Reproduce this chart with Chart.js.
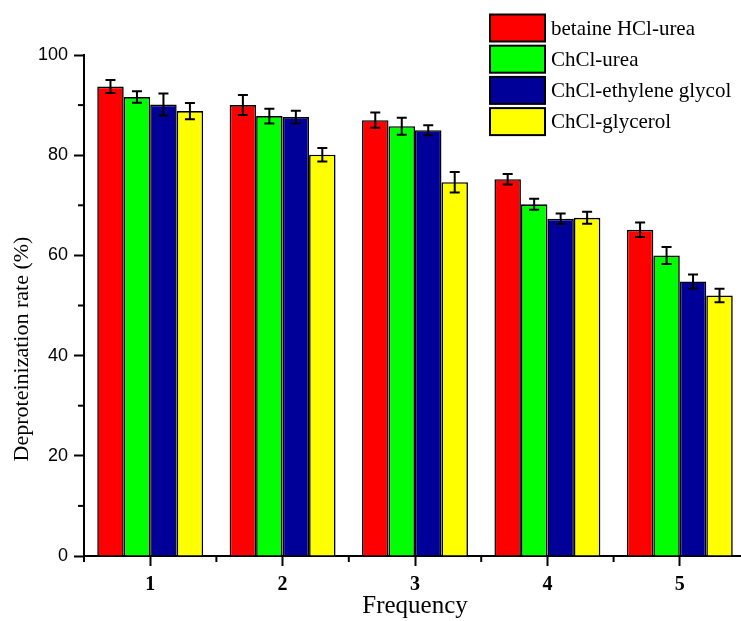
<!DOCTYPE html>
<html>
<head>
<meta charset="utf-8">
<script src="https://cdn.jsdelivr.net/npm/chart.js@4/dist/chart.umd.min.js"></script>
<style>
html,body{margin:0;padding:0;background:#fff;overflow:hidden;width:741px;height:621px;}
#wrap{position:absolute;left:0;top:0;width:750px;height:621px;}
</style>
</head>
<body>
<div id="wrap"><canvas id="c" width="750" height="621"></canvas></div>
<script>
const categories = ['1', '2', '3', '4', '5'];
const seriesNames = ['betaine HCl-urea', 'ChCl-urea', 'ChCl-ethylene glycol', 'ChCl-glycerol'];
const betaineUrea = [93.7, 90.0, 87.0, 75.2, 65.1];
const betaineUreaErr = [1.3, 2.0, 1.5, 1.05, 1.45];
const chclUrea = [91.6, 87.8, 85.8, 70.2, 60.0];
const chclUreaErr = [1.15, 1.45, 1.7, 1.1, 1.7];
const chclEG = [90.1, 87.6, 85.0, 67.3, 54.8];
const chclEGErr = [2.2, 1.25, 1.0, 1.05, 1.4];
const chclGly = [88.8, 80.1, 74.6, 67.5, 52.0];
const chclGlyErr = [1.6, 1.35, 2.05, 1.2, 1.35];
const yTicks = [0, 20, 40, 60, 80, 100];
const yMinorTicks = [10, 30, 50, 70, 90];
const xTitle = 'Frequency';
const yTitle = 'Deproteinization rate (%)';

const colors = ['#ff0000', '#00ff00', '#000099', '#ffff00'];
const values = [betaineUrea, chclUrea, chclEG, chclGly];
const errors = [betaineUreaErr, chclUreaErr, chclEGErr, chclGlyErr];

Chart.defaults.color = '#000';

const errorBars = {
  id: 'errorBars',
  afterDatasetsDraw(chart) {
    const ctx = chart.ctx, y = chart.scales.y;
    ctx.save();
    ctx.strokeStyle = '#000';
    ctx.lineWidth = 2;
    chart.data.datasets.forEach((ds, di) => {
      const meta = chart.getDatasetMeta(di);
      meta.data.forEach((bar, i) => {
        const v = ds.data[i], e = ds.errors[i];
        const yt = y.getPixelForValue(v + e), yb = y.getPixelForValue(v - e);
        ctx.beginPath();
        ctx.moveTo(bar.x, yt); ctx.lineTo(bar.x, yb);
        ctx.moveTo(bar.x - 5, yt); ctx.lineTo(bar.x + 5, yt);
        ctx.moveTo(bar.x - 5, yb); ctx.lineTo(bar.x + 5, yb);
        ctx.stroke();
      });
    });
    ctx.restore();
  }
};

const extras = {
  id: 'extras',
  afterDraw(chart) {
    const ctx = chart.ctx, ys = chart.scales.y, xs = chart.scales.x;
    const area = chart.chartArea;
    ctx.save();
    ctx.strokeStyle = '#000';
    ctx.lineWidth = 2;
    yMinorTicks.forEach(v => {
      const py = ys.getPixelForValue(v);
      ctx.beginPath(); ctx.moveTo(area.left - 6, py); ctx.lineTo(area.left, py); ctx.stroke();
    });
    const step = xs.getPixelForValue(1) - xs.getPixelForValue(0);
    for (let i = 0; i <= categories.length; i++) {
      const px = xs.getPixelForValue(0) - step / 2 + i * step;
      ctx.beginPath(); ctx.moveTo(px, area.bottom); ctx.lineTo(px, area.bottom + 6); ctx.stroke();
    }
    ctx.fillStyle = '#000';
    ctx.font = '22px "Liberation Serif"';
    ctx.textAlign = 'center';
    ctx.textBaseline = 'middle';
    ctx.translate(22, 349);
    ctx.rotate(-Math.PI / 2);
    ctx.fillText(yTitle, 0, 0);
    ctx.restore();
    ctx.save();
    const bx = 490, bw = 55, bh = 27, pitch = 31.2, top0 = 14.5;
    ctx.font = '21px "Liberation Serif"';
    ctx.textAlign = 'left';
    ctx.textBaseline = 'middle';
    chart.data.datasets.forEach((ds, i) => {
      const ty = top0 + i * pitch;
      ctx.fillStyle = ds.backgroundColor;
      ctx.fillRect(bx, ty, bw, bh);
      ctx.lineWidth = 2;
      ctx.strokeStyle = '#000';
      ctx.strokeRect(bx, ty, bw, bh);
      ctx.fillStyle = '#000';
      ctx.fillText(ds.label, 551, ty + bh / 2 + 1);
    });
    ctx.restore();
  }
};

new Chart(document.getElementById('c'), {
  type: 'bar',
  data: {
    labels: categories,
    datasets: seriesNames.map((n, i) => ({
      label: n,
      data: values[i],
      errors: errors[i],
      backgroundColor: colors[i],
      borderColor: '#000',
      borderWidth: 1.6,
      categoryPercentage: 0.8,
      barPercentage: 1.0
    }))
  },
  options: {
    responsive: false,
    animation: false,
    layout: { padding: { top: 55, right: 4, left: 0, bottom: 0 } },
    plugins: { legend: { display: false }, tooltip: { enabled: false } },
    scales: {
      x: {
        afterFit(s) { s.height = 65; },
        grid: { offset: false, drawOnChartArea: false, tickLength: 10, tickWidth: 2, tickColor: '#000' },
        border: { display: true, color: '#000', width: 2 },
        ticks: { font: { family: '"Liberation Serif"', size: 20, weight: 'bold' }, padding: 7, color: '#000' },
        title: { display: true, text: xTitle, font: { family: '"Liberation Serif"', size: 25 }, padding: { top: 0, bottom: 0 }, color: '#000' }
      },
      y: {
        min: 0, max: 100,
        afterFit(s) { s.width = 84; },
        afterBuildTicks(s) { s.ticks = yTicks.map(v => ({ value: v })); },
        grid: { drawOnChartArea: false, tickLength: 10, tickWidth: 2, tickColor: '#000' },
        border: { display: true, color: '#000', width: 2 },
        ticks: { font: { family: '"Liberation Sans"', size: 18 }, padding: 6, color: '#000' }
      }
    }
  },
  plugins: [errorBars, extras]
});
</script>
</body>
</html>
